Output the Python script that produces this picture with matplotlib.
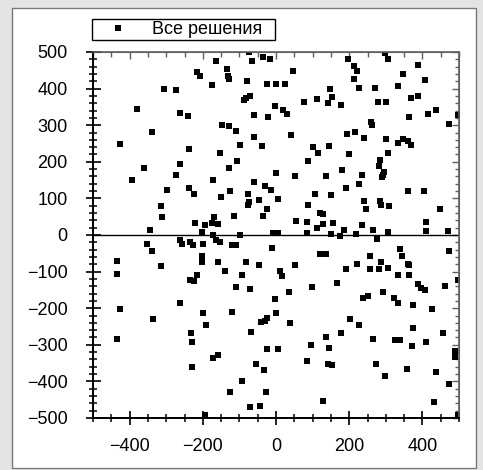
import matplotlib.pyplot as plt
from matplotlib.patches import Rectangle
from matplotlib.ticker import MultipleLocator

legend_label = 'Все решения'

# all solutions (x, y)
x_vals = [
    -216, -207, -176, -307, -272, -380, -261, -241, -340, -425, -237, -261, -360, -273,
    -393, -171, -297, -237, -224, -314, -312, -170, -221, -195, -176, -343, -203, -171,
    -163, -134, -130, -129, -74, -65, -36, -16, 46, -80, -24, -1, 25, 148, 153, 142,
    113, 76, -88, -81, -72, -4, 18, 29, -60, -23, -147, -129, -110, -60, 40, -97, -38,
    100, 146, -152, 116, -106, 87, -129, -1, 51, 137, -60, -29, -14, -125, -77, -149,
    -47, 5, 107, 151, -73, -77, -24, 87, 119, 128, -114, -36, -159, 56, 84, 111, 128,
    157, -97, -8, 5, 84, 151,
    198, 298, 305, 214, 220, 214, 228, 270, 348, 387, 407, 334, 178, 280, 300, 370,
    387, 260, 261, 363, 416, 436, 474, 497, 195, 216, 240, 300, 334, 348, 360, 369,
    199, 284, 305, 179, 234, 281, 296, 293, 289, 227, 190, 360, 404, 241, 245, 284,
    286, 310, 448, 236, 187, 264, 305, 411, 409, 471, 219, 175,
    -352, -340, -262, -258, -234, -226, -200, -203, -203, -434, -434, -314, -216, -236,
    -223, -262, -425, -200, -336, -191, -232, -229, -434, -173, -229, -194,
    -163, -152, -121, -110, -10, 119, 137, -159, -81, -47, 52, -138, 10, 17, -93, -110,
    -72, 35, 99, -4, -121, 1, -40, -31, -24, 39, -69, 137, 95, 145, -24, 5, -158, -56,
    84, 142, 154, -32, -92, -127, -28, 128, -72, -44,
    277, 339, 343, 257, 286, 220, 190, 257, 281, 307, 360, 363, 334, 363, 474, 387,
    396, 407, 461, 498, 166, 293, 239, 250, 322, 334, 375, 425, 202, 227, 178, 375,
    457, 264, 325, 339, 372, 411, 490, 490, 273, 359, 436, 298, 472, 432, 496,
]
y_vals = [
    444, 434, 409, 400, 395, 343, 334, 325, 281, 248, 236, 194, 182, 165,
    149, 150, 124, 129, 112, 79, 50, 49, 34, 26, 33, 14, 8, 1,
    476, 454, 435, 427, 500, 475, 486, 482, 449, 420, 413, 413, 413, 400, 377, 360,
    371, 363, 368, 374, 379, 353, 342, 331, 328, 322, 300, 297, 285, 268, 272, 247, 243,
    240, 243, 223, 223, 202, 202, 182, 169, 162, 162, 145, 134, 124, 119, 113, 104,
    95, 99, 112, 108, 90, 83, 71, 83, 59, 58, 51, 51, 31, 38, 35, 18, 29,
    33, 1, 6, 6, 5, 2,
    482, 498, 482, 461, 449, 427, 403, 403, 441, 465, 424, 406, 354, 363, 363, 374,
    379, 309, 300, 322, 331, 342, 302, 328, 276, 281, 265, 261, 252, 261, 256, 247,
    220, 206, 223, 177, 165, 188, 172, 165, 158, 138, 128, 119, 119, 92, 71, 92,
    83, 79, 71, 26, 14, 14, 7, 35, 10, 10, 3, -3,
    -24, -44, -15, -24, -19, -28, -24, -57, -74, -70, -106, -86, -110, -122,
    -127, -185, -201, -212, -230, -247, -269, -291, -283, -336, -360, -492,
    -15, -19, -28, -28, -36, -53, -53, -74, -74, -81, -81, -98, -98, -113, -110, -143,
    -148, -156, -143, -176, -210, -213, -238, -236, -227, -240, -265, -279, -300, -308, -312, -312, -329, -353,
    -344, -353, -356, -368, -399, -430, -430, -454, -471, -467,
    -10, -39, -57, -57, -74, -78, -94, -94, -94, -89, -78, -83, -110, -110, -45, -135,
    -145, -151, -138, -124, -130, -156, -171, -168, -171, -185, -192, -201, -230, -247, -267, -254,
    -267, -283, -288, -288, -303, -292, -318, -333, -353, -365, -374, -385, -406, -456, -492,
]

plt.rcParams['font.family'] = ['Liberation Sans', 'DejaVu Sans']

W, H = 483, 470
fig = plt.figure(figsize=(W / 100, H / 100), dpi=100, facecolor='#e4e4e4')
# white panel inside the grey window frame
fig.patches.append(Rectangle((12 / W, 2 / H), 464 / W, 460 / H, transform=fig.transFigure,
                             facecolor='white', edgecolor='#7a7a7a', lw=1, zorder=-10))

ax = fig.add_axes([93 / W, 52 / H, 366 / W, 366 / H])
ax.set_zorder(1)
ax.plot(x_vals, y_vals, 's', color='black', ms=3.9, mew=0, label=legend_label)
ax.axhline(0, color='black', lw=1)

ax.set_xlim(-500, 500)
ax.set_ylim(-500, 500)
ax.xaxis.set_major_locator(MultipleLocator(200))
ax.xaxis.set_minor_locator(MultipleLocator(50))
ax.yaxis.set_major_locator(MultipleLocator(100))
ax.yaxis.set_minor_locator(MultipleLocator(20))

ax.tick_params(which='both', direction='inout', top=False, right=False, colors='black')
ax.tick_params(axis='y', which='major', length=10.8, width=1.2, pad=13, labelsize=13)
ax.tick_params(axis='y', which='minor', length=5.8, width=1.1)
ax.tick_params(axis='x', which='major', length=9.4, width=1.2, pad=9.5, labelsize=13)
ax.tick_params(axis='x', which='minor', length=5.8, width=1.1)

for s in ['left', 'bottom']:
    ax.spines[s].set_linewidth(1.4)
for s in ['top', 'right']:
    ax.spines[s].set_color('#606060')
    ax.spines[s].set_linewidth(1.2)

# top and right: grey ticks pointing inwards
top = ax.secondary_xaxis('top')
top.xaxis.set_major_locator(MultipleLocator(200))
top.xaxis.set_minor_locator(MultipleLocator(50))
top.tick_params(which='major', direction='in', length=5, width=1, color='#606060', labeltop=False)
top.tick_params(which='minor', direction='in', length=3.5, width=1, color='#606060')
top.spines['top'].set_color('#606060')

right = ax.secondary_yaxis('right')
right.yaxis.set_major_locator(MultipleLocator(100))
right.yaxis.set_minor_locator(MultipleLocator(20))
right.tick_params(which='major', direction='in', length=5, width=1, color='#606060', labelright=False)
right.tick_params(which='minor', direction='in', length=3, width=1, color='#606060')
right.spines['right'].set_color('#606060')

leg = ax.legend(loc='lower left', bbox_to_anchor=(92 / W, (H - 40) / H, 183 / W, 0),
                bbox_transform=fig.transFigure, mode='expand', borderaxespad=0,
                fancybox=False, edgecolor='black', framealpha=1, fontsize=13,
                handlelength=2.6, handletextpad=0.6, borderpad=0.12, numpoints=1)
leg.get_frame().set_linewidth(1)

fig.savefig('out.png', dpi=100, facecolor=fig.get_facecolor())
